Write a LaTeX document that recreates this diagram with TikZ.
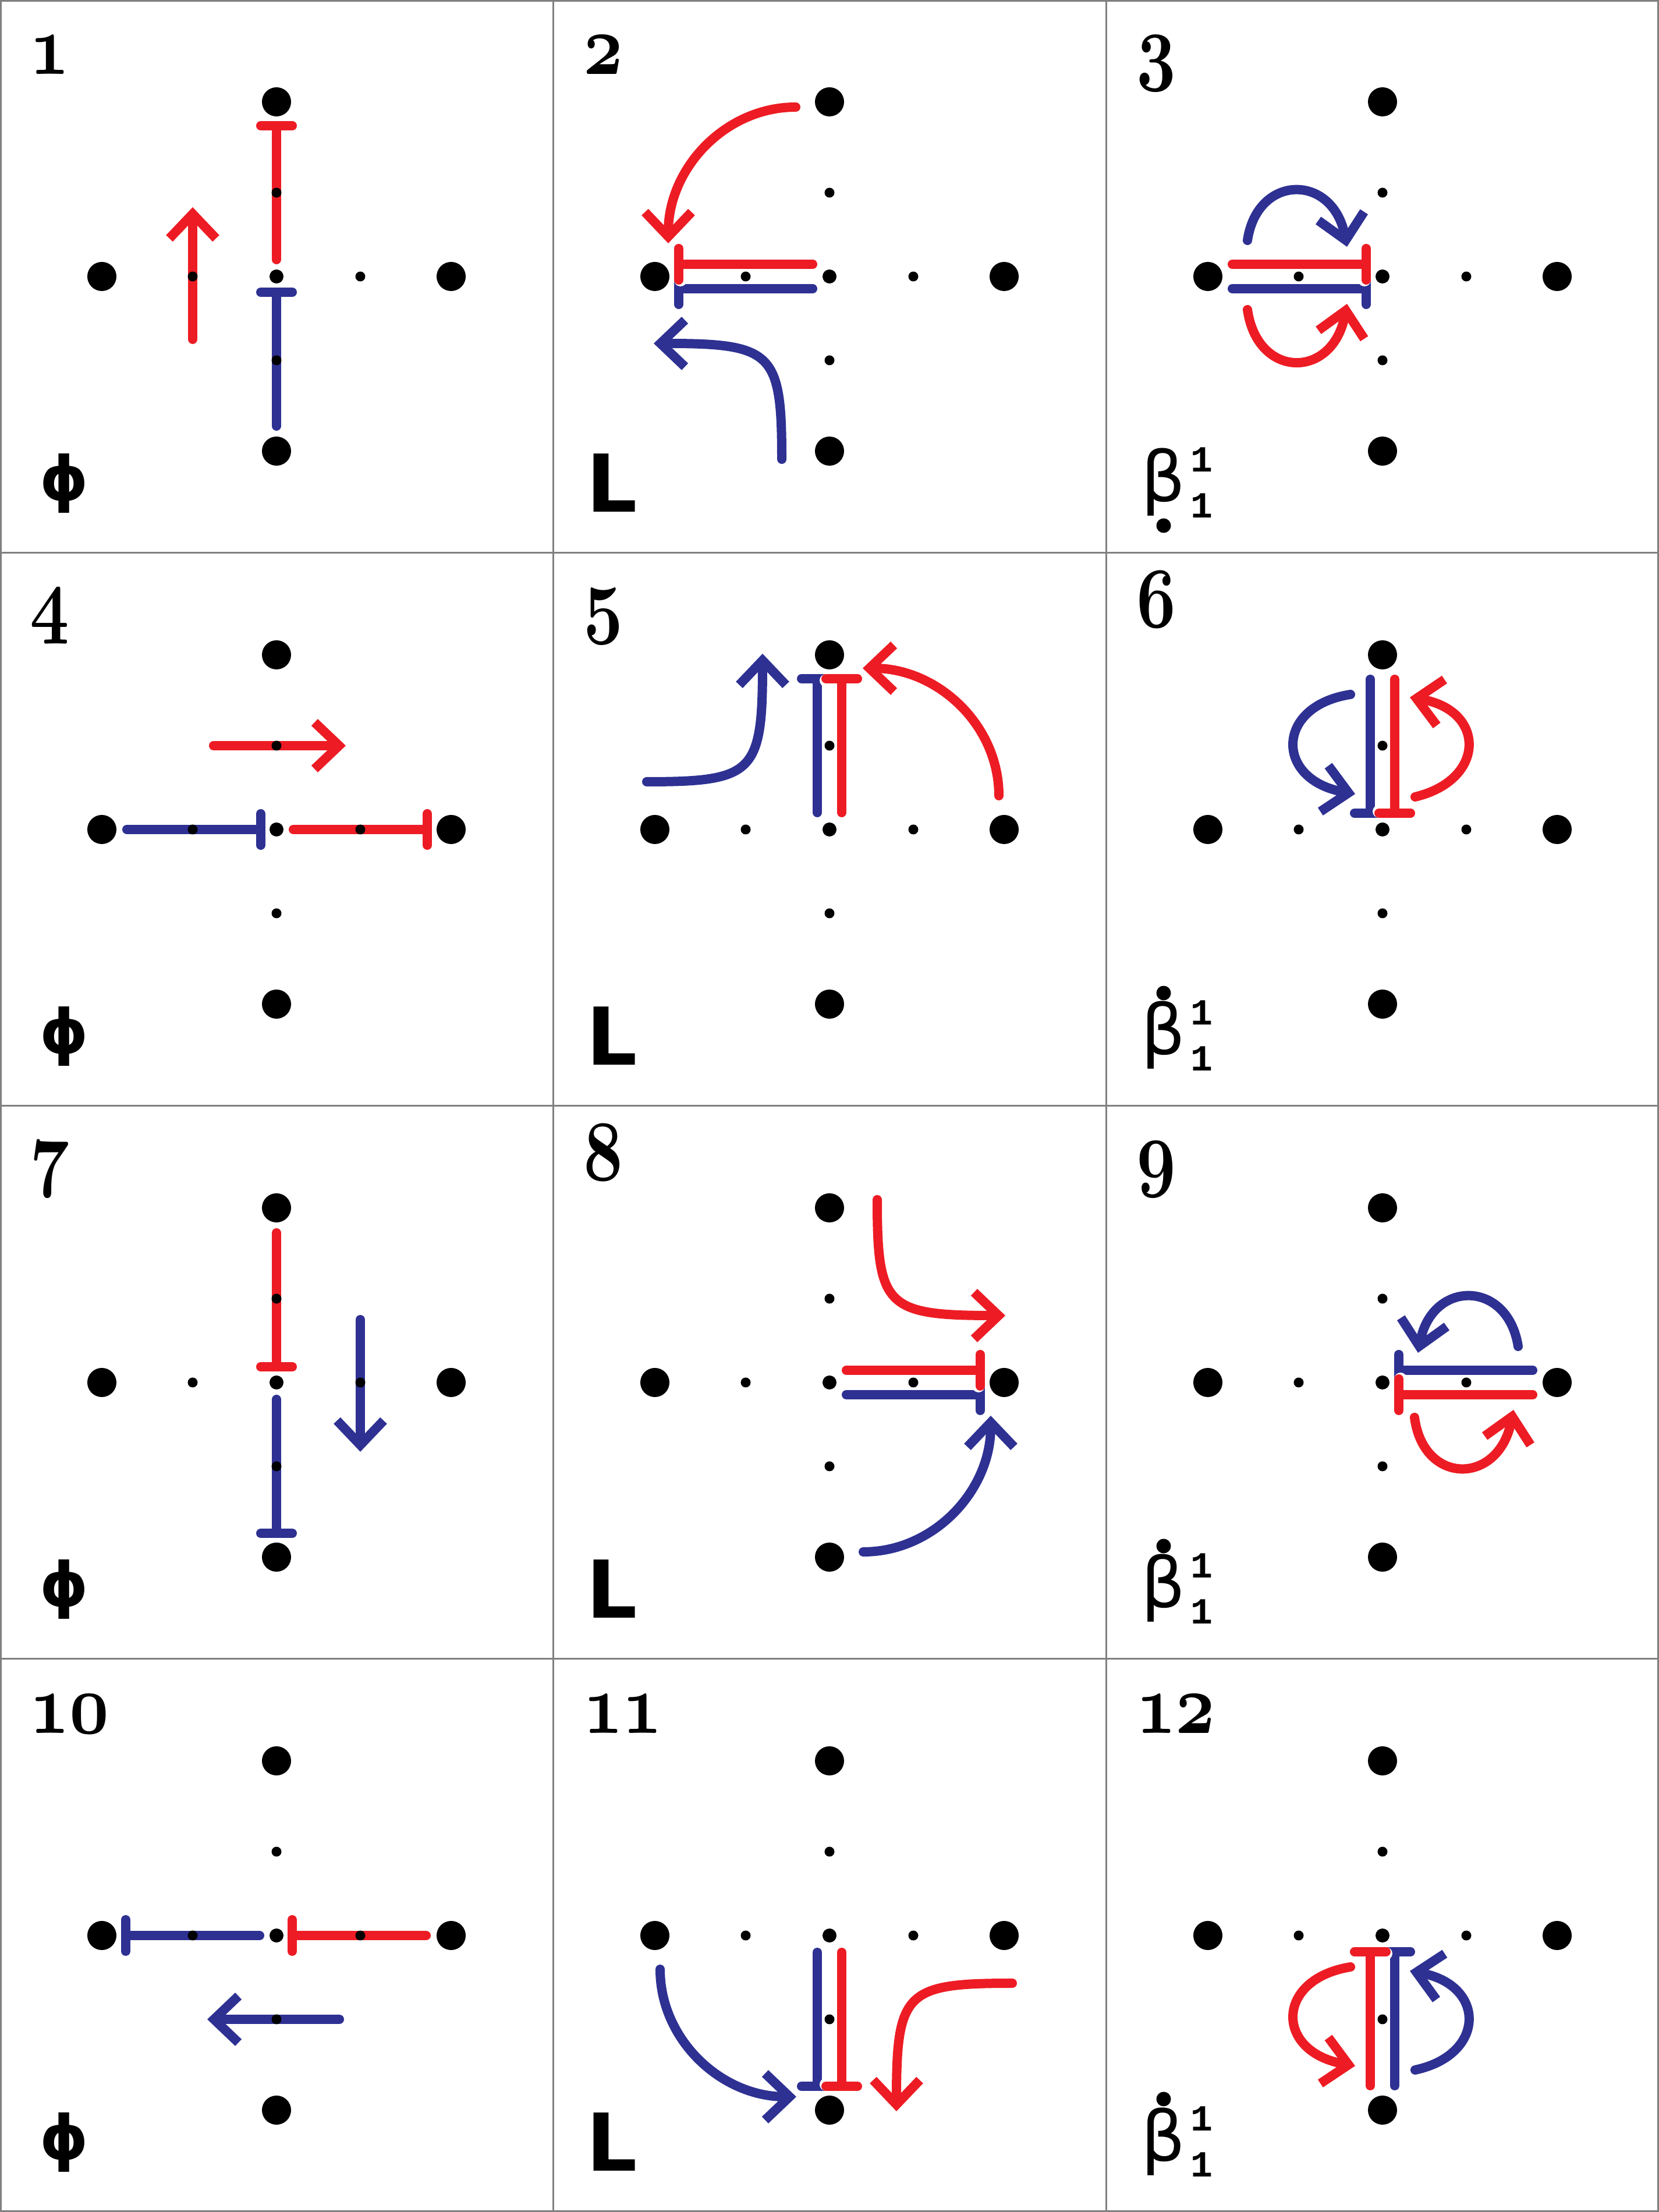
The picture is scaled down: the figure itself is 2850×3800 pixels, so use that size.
\documentclass[tikz,border=0pt]{standalone}
\usepackage{fontspec}
\usetikzlibrary{arrows.meta}
\newfontfamily\symfont{DejaVu Sans Bold}
\newfontfamily\betafont{DejaVu Sans}
\newfontfamily\idxfont{Liberation Mono Bold}
\font\numfont=cmmib10 at 42pt
\definecolor{SpinRed}{HTML}{ED1C24}
\definecolor{SpinBlue}{HTML}{2E3192}
\definecolor{FrameGray}{HTML}{808080}
\tikzset{
  every node/.style={inner sep=0pt, outer sep=0pt},
  frame/.style={draw=FrameGray, line width=0.3mm},
  bond/.style={line width=1.6mm, line cap=round},
  redbond/.style={bond, draw=SpinRed, preaction={draw=white, line width=2.2mm}},
  bluebond/.style={bond, draw=SpinBlue},
  inhibit/.style={-{Bar[width=5.4mm, round]}},
  excite/.style={-{Straight Barb[length=4.2mm, width=8mm]}},
  cellno/.style={anchor=base west, xscale=0.8, font=\numfont},
  phisym/.style={font=\fontsize{30}{30}\symfont},
  lsym/.style={font=\fontsize{39}{39}\symfont},
  betasym/.style={anchor=base east, font=\fontsize{34}{34}\betafont},
  idx/.style={anchor=north, align=center, font=\fontsize{18}{22.5}\idxfont},
  accent/.style={fill=black},
}
% the nine lattice sites of one panel
\newcommand\lattice{%
  \foreach \p in {(300,0),(-300,0),(0,300),(0,-300)} \fill \p circle[radius=25];
  \foreach \p in {(144,0),(-144,0),(0,144),(0,-144)} \fill \p circle[radius=8.5];
  \fill (0,0) circle[radius=12];
}

\begin{document}
\begin{tikzpicture}[x=0.1mm,y=0.1mm]
  \useasboundingbox (0,0) rectangle (2850,3800);
  % Panel frame
  \draw[frame] (1.5,1.5) rectangle (2848.5,3798.5);
  \foreach \i in {950,1900} \draw[frame] (\i,0) -- (\i,3800);
  \foreach \j in {950,1900,2850} \draw[frame] (0,\j) -- (2850,\j);

  % Panel 1
  \begin{scope}[shift={(475,3325)}]
    \draw[bluebond, inhibit] (0,-257) -- (0,-19);
    \draw[redbond, inhibit] (0,29) -- (0,267);
    \draw[redbond, excite] (-144,-108) -- (-144,119);
    \lattice
    \node[cellno] (num1) at (-423,347) {1};
    \node[phisym] (sym1) at (-365,-355) {^^^^03d5};
  \end{scope}
  % Panel 2
  \begin{scope}[shift={(1425,3325)}]
    \draw[bluebond, inhibit] (-29,-21) -- (-267,-21);
    \draw[bluebond, excite] (-82,-314) .. controls (-82,-130) and (-97,-115) .. (-302,-115);
    \draw[redbond, inhibit] (-29,21) -- (-267,21);
    \draw[redbond, excite] (-58,291) arc[start angle=90, end angle=180, x radius=219, y radius=234];
    \lattice
    \node[cellno] (num2) at (-423,347) {2};
    \node[lsym] (sym2) at (-374,-355) {L};
  \end{scope}
  % Panel 3
  \begin{scope}[shift={(2375,3325)}]
    \draw[bluebond, inhibit] (-258,-21) -- (-20,-21);
    \draw[bluebond, excite] (-232,62) .. controls (-215,177) and (-85,177) .. (-61,51);
    \draw[redbond, inhibit] (-258,21) -- (-20,21);
    \draw[redbond, excite] (-232,-57) .. controls (-215,-177) and (-85,-177) .. (-61,-47);
    \lattice
    \node[cellno] (num3) at (-423,347) {3};
    \node[betasym] (sym3) at (-338,-387) {β};
    \fill[accent] (-376,-428) circle[radius=12.5];
    \node[idx] (idx3) at (-311,-294) {1\\1};
  \end{scope}

  % Panel 4
  \begin{scope}[shift={(475,2375)}]
    \draw[bluebond, inhibit] (-257,0) -- (-19,0);
    \draw[redbond, inhibit] (29,0) -- (267,0);
    \draw[redbond, excite] (-108,144) -- (119,144);
    \lattice
    \node[cellno] (num4) at (-423,347) {4};
    \node[phisym] (sym4) at (-365,-355) {^^^^03d5};
  \end{scope}
  % Panel 5
  \begin{scope}[shift={(1425,2375)}]
    \draw[bluebond, inhibit] (-21,29) -- (-21,267);
    \draw[bluebond, excite] (-314,82) .. controls (-130,82) and (-115,97) .. (-115,302);
    \draw[redbond, inhibit] (21,29) -- (21,267);
    \draw[redbond, excite] (291,58) arc[start angle=0, end angle=90, x radius=234, y radius=219];
    \lattice
    \node[cellno] (num5) at (-423,347) {5};
    \node[lsym] (sym5) at (-374,-355) {L};
  \end{scope}
  % Panel 6
  \begin{scope}[shift={(2375,2375)}]
    \draw[bluebond, inhibit] (-21,258) -- (-21,20);
    \draw[bluebond, excite] (-55,232) .. controls (-185,212) and (-185,85) .. (-47,61);
    \draw[redbond, inhibit] (21,258) -- (21,20);
    \draw[redbond, excite] (56,56) .. controls (178,85) and (178,205) .. (47,227);
    \lattice
    \node[cellno] (num6) at (-423,347) {6};
    \node[betasym] (sym6) at (-338,-387) {β};
    \fill[accent] (-376,-281) circle[radius=12.5];
    \node[idx] (idx6) at (-311,-294) {1\\1};
  \end{scope}

  % Panel 7
  \begin{scope}[shift={(475,1425)}]
    \draw[bluebond, inhibit] (0,-29) -- (0,-267);
    \draw[bluebond, excite] (144,108) -- (144,-119);
    \draw[redbond, inhibit] (0,257) -- (0,19);
    \lattice
    \node[cellno] (num7) at (-423,347) {7};
    \node[phisym] (sym7) at (-365,-355) {^^^^03d5};
  \end{scope}
  % Panel 8
  \begin{scope}[shift={(1425,1425)}]
    \draw[bluebond, inhibit] (29,-21) -- (267,-21);
    \draw[bluebond, excite] (58,-291) arc[start angle=270, end angle=360, x radius=219, y radius=234];
    \draw[redbond, inhibit] (29,21) -- (267,21);
    \draw[redbond, excite] (82,314) .. controls (82,130) and (97,115) .. (302,115);
    \lattice
    \node[cellno] (num8) at (-423,347) {8};
    \node[lsym] (sym8) at (-374,-355) {L};
  \end{scope}
  % Panel 9
  \begin{scope}[shift={(2375,1425)}]
    \draw[bluebond, inhibit] (258,21) -- (20,21);
    \draw[bluebond, excite] (233,62) .. controls (215,177) and (85,177) .. (61,51);
    \draw[redbond, inhibit] (258,-21) -- (20,-21);
    \draw[redbond, excite] (55,-60) .. controls (70,-177) and (200,-177) .. (225,-47);
    \lattice
    \node[cellno] (num9) at (-423,347) {9};
    \node[betasym] (sym9) at (-338,-387) {β};
    \fill[accent] (-376,-281) circle[radius=12.5];
    \node[idx] (idx9) at (-311,-294) {1\\1};
  \end{scope}

  % Panel 10
  \begin{scope}[shift={(475,475)}]
    \draw[bluebond, inhibit] (-29,0) -- (-267,0);
    \draw[bluebond, excite] (108,-144) -- (-119,-144);
    \draw[redbond, inhibit] (257,0) -- (19,0);
    \lattice
    \node[cellno] (num10) at (-423,347) {10};
    \node[phisym] (sym10) at (-365,-355) {^^^^03d5};
  \end{scope}
  % Panel 11
  \begin{scope}[shift={(1425,475)}]
    \draw[bluebond, inhibit] (-21,-29) -- (-21,-267);
    \draw[bluebond, excite] (-291,-58) arc[start angle=180, end angle=270, x radius=234, y radius=219];
    \draw[redbond, inhibit] (21,-29) -- (21,-267);
    \draw[redbond, excite] (314,-82) .. controls (130,-82) and (115,-97) .. (115,-302);
    \lattice
    \node[cellno] (num11) at (-423,347) {11};
    \node[lsym] (sym11) at (-374,-355) {L};
  \end{scope}
  % Panel 12
  \begin{scope}[shift={(2375,475)}]
    \draw[bluebond, inhibit] (21,-258) -- (21,-20);
    \draw[bluebond, excite] (56,-231) .. controls (178,-205) and (178,-85) .. (47,-61);
    \draw[redbond, inhibit] (-21,-258) -- (-21,-20);
    \draw[redbond, excite] (-55,-54) .. controls (-185,-75) and (-185,-200) .. (-47,-224);
    \lattice
    \node[cellno] (num12) at (-423,347) {12};
    \node[betasym] (sym12) at (-338,-387) {β};
    \fill[accent] (-376,-281) circle[radius=12.5];
    \node[idx] (idx12) at (-311,-294) {1\\1};
  \end{scope}
\end{tikzpicture}
\end{document}
